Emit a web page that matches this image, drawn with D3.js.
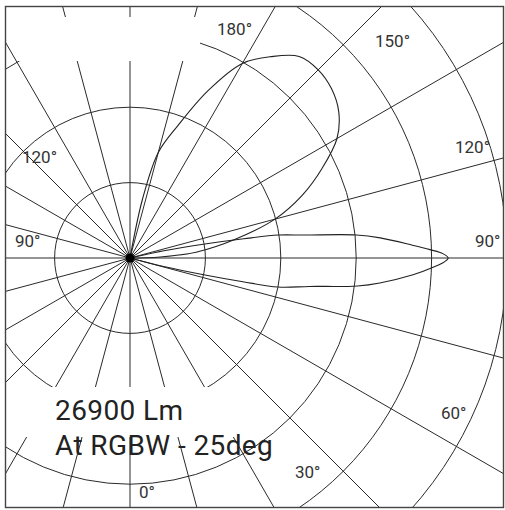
<!DOCTYPE html>
<html><head><meta charset="utf-8">
<script src="https://cdn.jsdelivr.net/npm/d3@7"></script>
<style>html,body{margin:0;padding:0;background:#fff}</style>
</head><body>
<svg id="chart" width="505" height="510"></svg>
<script>
// ---- data ----
const ringValues = [1, 2, 3, 4, 5];
const spokeAngles = d3.range(0, 360, 15);
const angleLabels = ["0°", "30°", "60°", "90°", "120°", "150°", "180°", "120°", "90°"];
const labelPositions = [[139,498],[295,478],[441,419],[475,247],[455,153],[375,47],[217,35],[22,163],[15,247]];
// wide (tilted) beam: angle (deg, 0 = down, 90 = right, 180 = up) and relative intensity
const wideAngles = [90, 92, 95, 100, 105, 110, 115, 120, 125, 130, 135, 140, 145, 150, 155, 160, 165, 168, 170];
const wideValues = [0, 0.40, 0.88, 1.41, 1.99, 2.43, 2.81, 3.17, 3.38, 3.49, 3.53, 3.49, 3.26, 2.98, 2.45, 1.88, 1.45, 0.80, 0];
// narrow beam
const narrowAngles = [74, 75.8, 77.2, 78.1, 78.9, 81, 83, 84.3, 86.6, 88.3, 89.3, 90, 90.8, 91.6, 92.6, 94.6, 95.8, 97.5, 98.8, 99.6, 100.6, 102, 104];
const narrowValues = [0, 0.46, 1.02, 1.53, 2.0, 2.41, 3.04, 3.33, 3.76, 4.03, 4.17, 4.22, 4.15, 3.98, 3.75, 3.33, 3.02, 2.33, 1.99, 1.53, 1.01, 0.46, 0];
const titleLines = ["26900 Lm", "At RGBW - 25deg"];

// ---- layout ----
const W = 505, H = 510;
const cx = 130, cy = 258;
const frame = {x: 5, y: 6, w: 499, h: 502};
const svg = d3.select("#chart");
const r = d3.scaleLinear().domain([0, 1]).range([0, 75.4]);
const toRad = a => Math.PI - a * Math.PI / 180;

svg.append("rect").attr("width", W).attr("height", H).attr("fill", "#fff");
svg.append("clipPath").attr("id", "fc").append("rect")
  .attr("x", frame.x).attr("y", frame.y).attr("width", frame.w).attr("height", frame.h);

const g = svg.append("g").attr("clip-path", "url(#fc)");
const grid = g.append("g").attr("transform", `translate(${cx},${cy})`);

grid.selectAll("circle.ring").data(ringValues).join("circle")
  .attr("class", "ring").attr("r", d => r(d))
  .attr("fill", "none").attr("stroke", "#2a2a2a").attr("stroke-width", 1);

const Rmax = r(8);
grid.selectAll("line.spoke").data(spokeAngles).join("line")
  .attr("class", "spoke")
  .attr("x1", 0).attr("y1", 0)
  .attr("x2", d => Rmax * Math.sin(toRad(d)))
  .attr("y2", d => -Rmax * Math.cos(toRad(d)))
  .attr("stroke", "#2a2a2a").attr("stroke-width", 1);

// white boxes behind annotation areas
g.append("rect").attr("x", 17).attr("y", 17).attr("width", 183).attr("height", 44).attr("fill", "#fff");
g.append("rect").attr("x", 17).attr("y", 387).attr("width", 222).attr("height", 50).attr("fill", "#fff");

// beams
const lobes = g.append("g").attr("transform", `translate(${cx},${cy})`);
const radial = d3.lineRadial()
  .angle(d => toRad(d[0]))
  .radius(d => r(d[1]))
  .curve(d3.curveCatmullRom.alpha(0.5));
lobes.append("path").datum(d3.zip(wideAngles, wideValues))
  .attr("d", radial).attr("fill", "none").attr("stroke", "#222").attr("stroke-width", 1.1);
lobes.append("path").datum(d3.zip(narrowAngles, narrowValues))
  .attr("d", radial).attr("fill", "none").attr("stroke", "#222").attr("stroke-width", 1.1);
lobes.append("circle").attr("r", 4.5).attr("fill", "#000");

// angle labels
svg.append("g").selectAll("text").data(angleLabels).join("text")
  .attr("x", (d, i) => labelPositions[i][0])
  .attr("y", (d, i) => labelPositions[i][1])
  .attr("font-family", "Roboto, 'Liberation Sans', sans-serif")
  .attr("font-size", 17).attr("fill", "#333")
  .text(d => d);

// title text
svg.append("g").selectAll("text").data(titleLines).join("text")
  .attr("x", 55).attr("y", (d, i) => 420 + i * 35)
  .attr("font-family", "Roboto, 'Liberation Sans', sans-serif")
  .attr("font-size", 28).attr("letter-spacing", 0.4).attr("fill", "#222")
  .text(d => d);

// frame
svg.append("rect").attr("x", frame.x + 0.5).attr("y", frame.y + 0.5)
  .attr("width", frame.w - 1).attr("height", frame.h - 1)
  .attr("fill", "none").attr("stroke", "#444").attr("stroke-width", 1.4);
</script>
</body></html>
